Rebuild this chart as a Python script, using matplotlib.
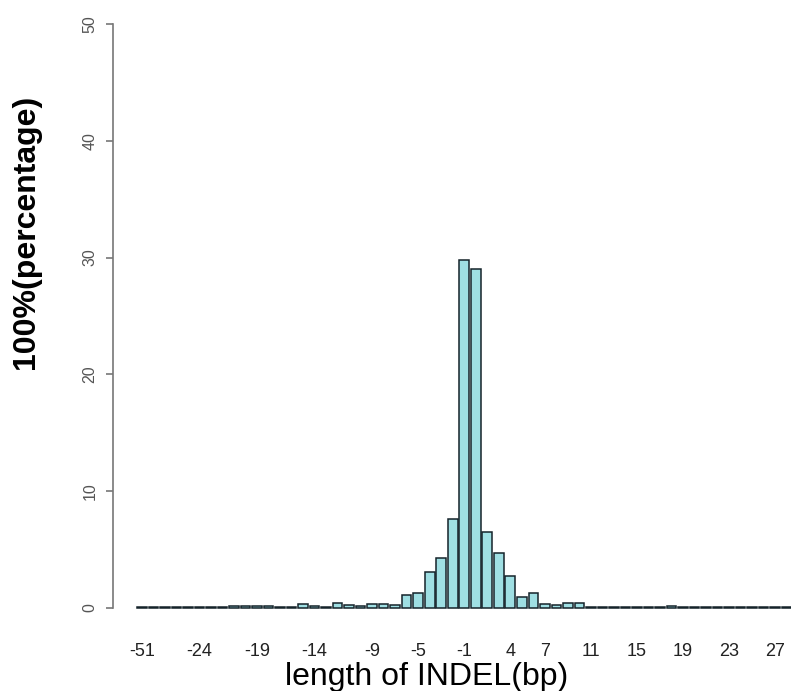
import matplotlib
matplotlib.use("Agg")
import matplotlib.pyplot as plt
import numpy as np

plt.rcParams['font.family'] = ['Liberation Sans', 'DejaVu Sans']

# INDEL length categories (bp) and percentage of INDELs
categories = [-51, -30, -27, -26, -25,
              -24, -23, -22, -21, -20, -19, -18, -17, -16, -15, -14, -13,
              -12, -11, -10, -9, -8, -7, -6, -5, -4, -3, -2, -1,
              1, 2, 3, 4, 5, 6, 7, 8, 9, 10, 11, 12, 13, 14, 15, 16, 17,
              18, 19, 20, 21, 22, 23, 24, 25, 26, 27, 28, 29]
values = [0.05, 0.05, 0.05, 0.05, 0.10,
          0.08, 0.10, 0.12, 0.15, 0.15, 0.15, 0.15, 0.10, 0.10, 0.35, 0.15, 0.10,
          0.40, 0.30, 0.18, 0.35, 0.35, 0.30, 1.10, 1.25, 3.10, 4.25, 7.60, 29.8,
          29.0, 6.50, 4.70, 2.75, 0.95, 1.30, 0.35, 0.25, 0.40, 0.40, 0.10, 0.10,
          0.08, 0.08, 0.08, 0.08, 0.10, 0.15, 0.12, 0.05, 0.05, 0.05, 0.05, 0.05,
          0.05, 0.05, 0.05, 0.05, 0.05]
shown_labels = [-51, -24, -19, -14, -9, -5, -1, 4, 7, 11, 15, 19, 23, 27]
y_ticks = [0, 10, 20, 30, 40, 50]

W, H = 791, 691
fig = plt.figure(figsize=(W / 100, H / 100), dpi=100)
ax = fig.add_axes([113 / W, 59.6 / H, (W - 113) / W, 630.8 / H])

x = np.arange(len(categories)) * 1.2
ax.bar(x, values, width=1.0, color='#9fdfe3', edgecolor='#15232a',
       linewidth=1.1, clip_on=True)

ax.set_xlim(-3.024, 67.67)
ax.set_ylim(-2, 52)

tick_pos = [x[categories.index(c)] for c in shown_labels]
ax.set_xticks(tick_pos)
ax.set_xticklabels([str(c) for c in shown_labels], fontsize=13, color='#222222')
ax.tick_params(axis='x', length=0, pad=8)

ax.set_yticks(y_ticks)
ax.set_yticklabels([str(v) for v in y_ticks], fontsize=11.5, color='#555555',
                   rotation=90, va='center')
ax.tick_params(axis='y', length=5, width=1.2, color='#777777', pad=6)

for s in ['top', 'right', 'bottom']:
    ax.spines[s].set_visible(False)
ax.spines['left'].set_bounds(0, 50)
ax.spines['left'].set_color('#777777')
ax.spines['left'].set_linewidth(1.2)

fig.text(26 / W, 1 - 232 / H, '100%(percentage)', rotation=90, fontsize=23,
         fontweight='bold', ha='center', va='center', color='black')
fig.text(427 / W, 6 / H, 'length of INDEL(bp)', fontsize=23,
         ha='center', va='baseline', color='black')

fig.savefig('out.png', dpi=100)
